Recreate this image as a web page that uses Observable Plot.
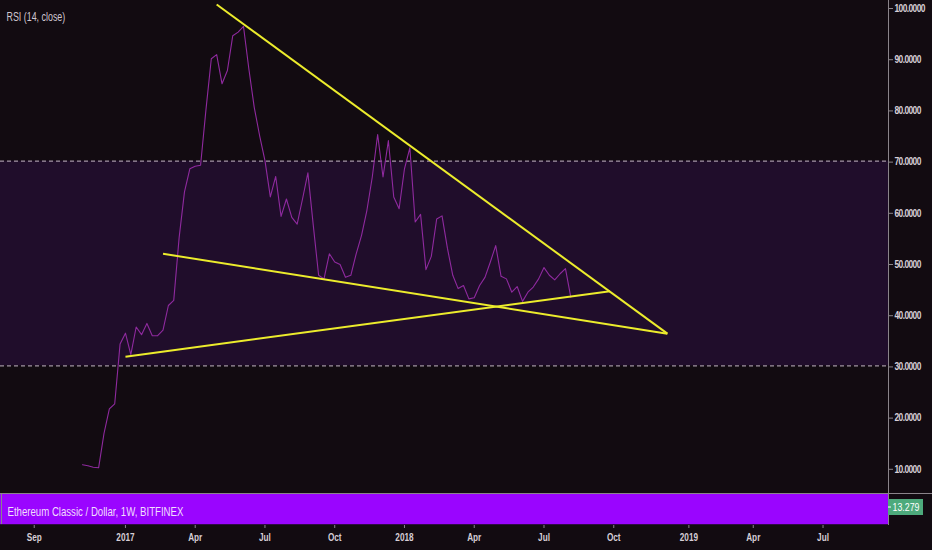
<!DOCTYPE html>
<html>
<head>
<meta charset="utf-8">
<script src="https://cdn.jsdelivr.net/npm/d3@7"></script>
<script src="https://cdn.jsdelivr.net/npm/@observablehq/plot@0.6"></script>
<style>
html, body { margin: 0; padding: 0; background: #120b11; }
#chart { width: 932px; height: 550px; }
</style>
</head>
<body>
<div id="chart"></div>
<script>
// ---- data ----
const firstWeek = "2016-11-07"; // weekly bars (Mondays)
const rsiValues = [
  10.7, 10.5, 10.2, 10.1, 16.8, 21.6, 22.6, 34.3, 36.4, 32.2,
  37.6, 36.1, 38.3, 35.9, 35.9, 37.0, 41.8, 42.8, 55.0, 64.0,
  68.5, 69.0, 69.2, 80.0, 90.0, 90.8, 85.1, 87.7, 94.5, 95.2,
  96.3, 88.0, 80.5, 75.0, 70.1, 63.0, 67.0, 59.2, 62.6, 59.0,
  57.7, 62.6, 67.7, 57.5, 47.7, 47.0, 51.9, 50.3, 49.8, 47.3,
  47.7, 51.9, 55.5, 60.4, 66.9, 75.2, 66.9, 74.0, 63.0, 60.7,
  68.5, 72.6, 58.1, 59.6, 48.8, 51.4, 58.7, 59.3, 53.0, 47.7,
  45.1, 45.7, 43.1, 43.3, 45.7, 47.3, 50.3, 53.5, 47.5, 47.0,
  44.4, 45.5, 42.6, 44.4, 45.4, 47.0, 49.2, 47.7, 46.8, 48.0,
  49.0, 43.4
];
const tickDates = ["2016-09-05","2017-01-02","2017-04-03","2017-07-03","2017-10-02","2018-01-01",
                   "2018-04-02","2018-07-02","2018-10-01","2019-01-07","2019-04-01","2019-07-01"];
const tickLabels = ["Sep","2017","Apr","Jul","Oct","2018","Apr","Jul","Oct","2019","Apr","Jul"];
const yTicks = [10, 20, 30, 40, 50, 60, 70, 80, 90, 100];
const bandLevels = [30, 70];

// trend lines drawn on the chart
const trendStartDates = ["2017-05-01", "2017-02-20", "2017-01-02"];
const trendStartRSI   = [100.6, 51.9, 31.8];
const trendEndDates   = ["2018-12-10", "2018-12-10", "2018-09-26"];
const trendEndRSI     = [36.3, 36.3, 44.6];

const titleText = "RSI (14, close)";
const seriesText = "Ethereum Classic / Dollar, 1W, BITFINEX";
const lastPrice = "13.279";

// ---- build tables ----
const start = new Date(firstWeek);
const rsi = rsiValues.map((v, i) => ({date: d3.utcDay.offset(start, 7 * i), value: v}));
const trends = trendStartDates.map((d, i) => ({
  x1: new Date(d), y1: trendStartRSI[i], x2: new Date(trendEndDates[i]), y2: trendEndRSI[i]
}));
const tickDateObjs = tickDates.map(d => new Date(d));
const labelOf = new Map(tickDateObjs.map((d, i) => [+d, tickLabels[i]]));

// ---- layout ----
const xDomain = [new Date("2016-07-23T00:00Z"), new Date("2019-09-24T10:00Z")];
const yDomain = [-1.17, 101.37];
const panelTop = 5.08; // top edge of the lower (price) pane, in RSI units
const font = "'Liberation Sans', Arial, sans-serif";

const chart = Plot.plot({
  width: 932,
  height: 550,
  marginLeft: 0,
  marginRight: 44,
  marginTop: 0,
  marginBottom: 25,
  style: {background: "#120b11", color: "#d2c9d2", fontFamily: font, overflow: "visible"},
  x: {type: "utc", domain: xDomain, axis: null},
  y: {domain: yDomain, axis: null},
  marks: [
    // overbought/oversold band
    Plot.rect([bandLevels], {x1: () => xDomain[0], x2: () => xDomain[1], y1: d => d[0], y2: d => d[1], fill: "#200d2b"}),
    Plot.ruleY(bandLevels, {stroke: "#c4b6c4", strokeWidth: 1, strokeDasharray: "4,3"}),
    // lower pane strip
    Plot.rect([yDomain], {x1: () => xDomain[0], x2: () => xDomain[1], y1: d => d[0] + 0.15, y2: () => panelTop, fill: "#9a05ff"}),
    Plot.text([seriesText], {frameAnchor: "bottom-left", dx: 7, dy: -14, lineAnchor: "middle", textAnchor: "start",
      fill: "#f1defc", fontSize: 13, fontFamily: font, className: "series-label"}),
    // RSI line
    Plot.line(rsi, {x: "date", y: "value", stroke: "#8f2a9f", strokeWidth: 1.1}),
    // trend lines
    Plot.link(trends, {x1: "x1", y1: "y1", x2: "x2", y2: "y2", stroke: "#ecec2c", strokeWidth: 2}),
    // right axis line
    Plot.ruleX([xDomain[1]], {stroke: "#8a848a", strokeWidth: 1}),
    Plot.axisY({anchor: "right", ticks: yTicks, tickFormat: d3.format(".4f"), tickSize: 4, tickPadding: 2,
      fontSize: 10, fontWeight: "bold", dy: 1, stroke: "#8a848a", fill: "#d8d0d8", className: "yax"}),
    Plot.axisX({anchor: "bottom", ticks: tickDateObjs, tickFormat: d => labelOf.get(+d), tickSize: 3, tickPadding: 5,
      fontSize: 10, fontWeight: "bold", stroke: "#8a848a", fill: "#d6ced6", className: "xax"}),
    // title
    Plot.text([titleText], {frameAnchor: "top-left", dx: 6, dy: 17, lineAnchor: "middle", textAnchor: "start",
      fill: "#d0c7d0", fontSize: 12, fontFamily: font, className: "title-label"})
  ]
});

// pane separator and last-price label (chart chrome in the right margin)
const svg = d3.select(chart);
const yPanel = 493.5;
svg.append("line").attr("x1", 0).attr("x2", 932).attr("y1", yPanel).attr("y2", yPanel)
  .attr("stroke", "#8a848a").attr("stroke-width", 1);
svg.append("line").attr("x1", 1.5).attr("x2", 1.5).attr("y1", yPanel).attr("y2", 524)
  .attr("stroke", "#8a848a").attr("stroke-width", 1);
svg.append("rect").attr("x", 888).attr("y", 499).attr("width", 35).attr("height", 16).attr("fill", "#4daa7c");
svg.append("line").attr("x1", 888).attr("x2", 891).attr("y1", 507).attr("y2", 507).attr("stroke", "#ffffff");
svg.append("text").attr("class", "price-label").attr("x", 906).attr("y", 507).attr("dy", "0.35em").attr("text-anchor", "middle")
  .attr("fill", "#ffffff").attr("font-size", 10).attr("font-family", font).text(lastPrice);

document.getElementById("chart").appendChild(chart);

// condensed look of the original's narrow UI font
function condense(selector, factor, spacing) {
  chart.querySelectorAll(selector).forEach(t => {
    if (spacing) t.style.letterSpacing = spacing;
    const w = t.getComputedTextLength();
    if (w > 0) {
      t.setAttribute("textLength", (w * factor).toFixed(2));
      t.setAttribute("lengthAdjust", "spacingAndGlyphs");
    }
  });
}
condense(".yax text", 0.84, "-0.7px");
condense(".xax text", 0.82);
condense(".title-label text", 0.74);
condense(".series-label text", 0.74);
condense("text.price-label", 0.88);
</script>
</body>
</html>
